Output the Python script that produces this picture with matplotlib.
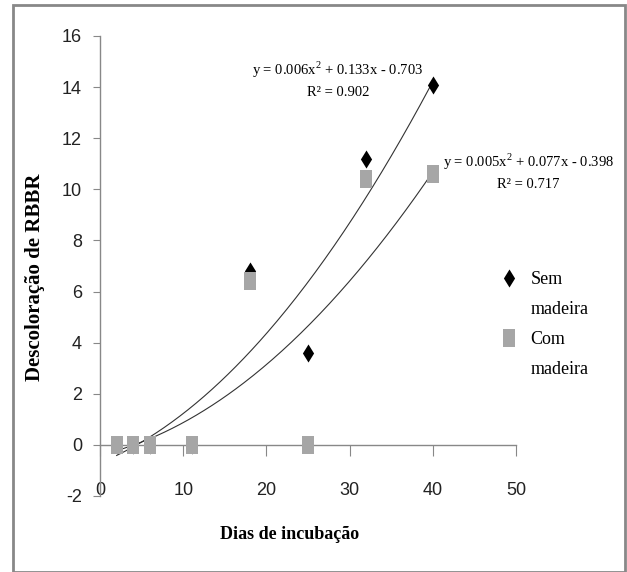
import numpy as np
import matplotlib
matplotlib.use("Agg")
import matplotlib.pyplot as plt
from matplotlib.patches import Rectangle
from matplotlib.lines import Line2D

# Data
dias = [2, 4, 6, 11, 18, 25, 32, 40]
sem_madeira = [0, 0, 0, 0, 6.8, 3.6, 11.2, 14.1]
com_madeira = [0, 0, 0, 0, 6.4, 0, 10.4, 10.6]
coef_sem = [0.006, 0.133, -0.703]
coef_com = [0.005, 0.077, -0.398]
eq_sem = "y = 0.006x$^2$ + 0.133x - 0.703\nR² = 0.902"
eq_com = "y = 0.005x$^2$ + 0.077x - 0.398\nR² = 0.717"
xticks = [0, 10, 20, 30, 40, 50]
yticks = [-2, 0, 2, 4, 6, 8, 10, 12, 14, 16]

serif = ["Liberation Serif", "DejaVu Serif"]
narrow = ["Liberation Sans Narrow", "Liberation Sans", "DejaVu Sans"]
plt.rcParams["mathtext.fontset"] = "custom"
plt.rcParams["mathtext.rm"] = "Liberation Serif"
plt.rcParams["axes.unicode_minus"] = False

diamond = [(0, 1), (0.62, 0), (0, -1), (-0.62, 0), (0, 1)]
tall_sq = [(-0.65, -1), (0.65, -1), (0.65, 1), (-0.65, 1), (-0.65, -1)]

fig = plt.figure(figsize=(6.27, 5.72), dpi=100)
ax = fig.add_axes([100/627, 1-496/572, 416/627, 460/572])

ax.plot(dias, sem_madeira, linestyle="none", marker=diamond, markersize=13,
        color="black", markeredgewidth=0, zorder=3, label="Sem madeira")
ax.plot(dias, com_madeira, linestyle="none", marker=tall_sq, markersize=13,
        color="#a6a6a6", markeredgewidth=0, zorder=4, label="Com madeira")

xs = np.linspace(min(dias), max(dias), 200)
ax.plot(xs, np.polyval(coef_sem, xs), color="#333333", lw=0.8, zorder=2)
ax.plot(xs, np.polyval(coef_com, xs), color="#333333", lw=0.8, zorder=2)

ax.set_xlim(0, 50)
ax.set_ylim(-2, 16)
ax.set_xticks(xticks)
ax.set_yticks(yticks)
ax.spines["top"].set_visible(False)
ax.spines["right"].set_visible(False)
ax.spines["bottom"].set_position(("data", 0))
for s in ("left", "bottom"):
    ax.spines[s].set_color("#888888")
    ax.spines[s].set_linewidth(1.0)
ax.tick_params(axis="y", direction="out", length=5, color="#888888", pad=8)
ax.tick_params(axis="x", direction="out", length=8, color="#888888", pad=19)
for lab in ax.get_xticklabels() + ax.get_yticklabels():
    lab.set_family(narrow)
    lab.set_fontsize(13)
    lab.set_color("#222222")

ax.set_xlabel("Dias de incubação", family=serif, fontweight="bold", fontsize=13)
ax.xaxis.set_label_coords((290-100)/416, (496-526)/460)
ax.set_ylabel("Descoloração de RBBR", family=serif, fontweight="bold", fontsize=15)
ax.yaxis.set_label_coords((45-100)/416, (496-277)/460)

ax.text(28.6, 14.3, eq_sem, ha="center", va="center", family=serif,
        fontsize=10.5, linespacing=1.6)
ax.text(51.5, 10.7, eq_com, ha="center", va="center", family=serif,
        fontsize=10.5, linespacing=1.6, clip_on=False)

blank = Line2D([], [], linestyle="none")
h_sem = Line2D([], [], linestyle="none", marker=diamond, markersize=13,
               color="black", markeredgewidth=0)
h_com = Line2D([], [], linestyle="none", marker=tall_sq, markersize=13,
               color="#a6a6a6", markeredgewidth=0)
leg = ax.legend([h_sem, blank, h_com, blank], ["Sem", "madeira", "Com", "madeira"],
                loc="upper left", bbox_to_anchor=((500-100)/416, (496-271)/460),
                frameon=False, prop={"family": serif, "size": 13},
                handlelength=1.0, handletextpad=0.7, labelspacing=0.72,
                borderaxespad=0, borderpad=0)

fig.patches.append(Rectangle((13/627, 0), (625-13)/627, (572-5)/572,
                             transform=fig.transFigure, fill=False,
                             edgecolor="#888888", linewidth=2))

fig.savefig("out.png", dpi=100)
